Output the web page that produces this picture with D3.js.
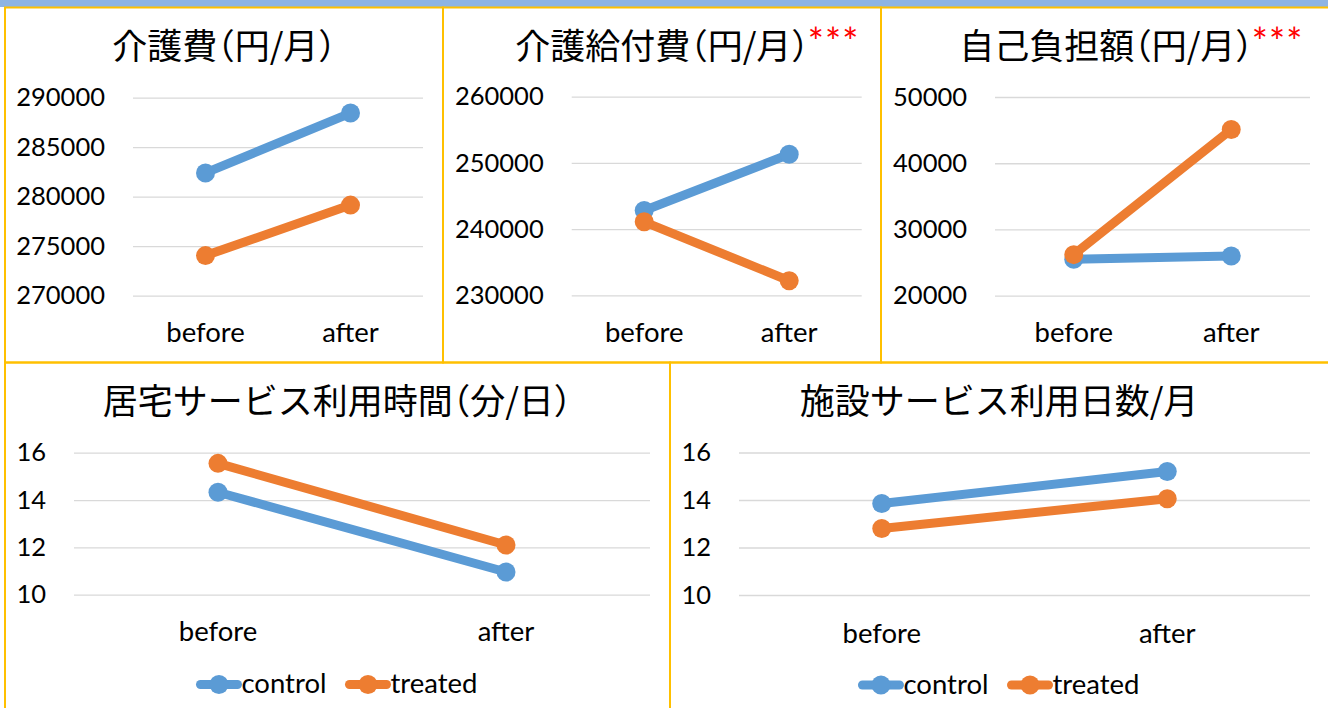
<!DOCTYPE html>
<html><head><meta charset="utf-8">
<script src="https://cdn.jsdelivr.net/npm/d3@7"></script>
<style>
body{margin:0;background:#fff;}
svg{display:block;}
.num{font-family:Lato,"Noto Sans",sans-serif;font-size:25.5px;fill:#000;}
.lbl{font-family:Lato,"Noto Sans",sans-serif;font-size:27.5px;fill:#000;}
.title{font-family:"Noto Sans CJK JP",sans-serif;font-size:35px;fill:#000;font-feature-settings:"halt";}
.sig{font-family:Lato,"Noto Sans",sans-serif;font-size:38px;fill:#ff0000;letter-spacing:1px;}
</style></head><body>
<svg id="c" width="1328" height="708"></svg>
<script>
// ---- data ----
const categories = ["before", "after"];
const seriesNames = ["control", "treated"];
const titles = ["介護費（円/月）", "介護給付費（円/月）", "自己負担額（円/月）", "居宅サービス利用時間（分/日）", "施設サービス利用日数/月"];
const sigMarks = ["", "***", "***", "", ""];

const careCostControl = [282400, 288450];
const careCostTreated = [274050, 279150];
const benefitControl = [242800, 251300];
const benefitTreated = [241100, 232200];
const copayControl = [25500, 26000];
const copayTreated = [26200, 45100];
const homeTimeControl = [14.33, 10.96];
const homeTimeTreated = [15.55, 12.10];
const facilityDaysControl = [13.85, 15.20];
const facilityDaysTreated = [12.80, 14.05];

const ticksCareCost = [270000, 275000, 280000, 285000, 290000];
const ticksBenefit = [230000, 240000, 250000, 260000];
const ticksCopay = [20000, 30000, 40000, 50000];
const ticksHomeTime = [10, 12, 14, 16];
const ticksFacilityDays = [10, 12, 14, 16];

const colors = ["#5b9bd5", "#ed7d31"];

// ---- layout ----
const panels = [
  {title: titles[0], sig: sigMarks[0], series: [careCostControl, careCostTreated], ticks: ticksCareCost,
   box: {x: 5, y: 7.5, w: 438, h: 355}, cx: 224, plot: {x0: 133, x1: 423, y0: 97.7, y1: 295.7}, catY: 342, legend: false},
  {title: titles[1], sig: sigMarks[1], series: [benefitControl, benefitTreated], ticks: ticksBenefit,
   box: {x: 443, y: 7.5, w: 438, h: 355}, cx: 662, plot: {x0: 571.7, x1: 861.7, y0: 96.7, y1: 295.3}, catY: 342, legend: false},
  {title: titles[2], sig: sigMarks[2], series: [copayControl, copayTreated], ticks: ticksCopay,
   box: {x: 881, y: 7.5, w: 470, h: 355}, cx: 1106, plot: {x0: 995, x1: 1310, y0: 97, y1: 295.7}, catY: 342, legend: false},
  {title: titles[3], sig: sigMarks[3], series: [homeTimeControl, homeTimeTreated], ticks: ticksHomeTime,
   box: {x: 5, y: 362.5, w: 665, h: 360}, cx: 337, plot: {x0: 74, x1: 650, y0: 452.7, y1: 594.7}, catY: 641, legend: true, legY: 684.5},
  {title: titles[4], sig: sigMarks[4], series: [facilityDaysControl, facilityDaysTreated], ticks: ticksFacilityDays,
   box: {x: 670, y: 362.5, w: 700, h: 360}, cx: 999, plot: {x0: 739, x1: 1310, y0: 452.5, y1: 595}, catY: 643, legend: true, legY: 685}
];

const svg = d3.select("#c");
svg.append("rect").attr("width", 1328).attr("height", 708).attr("fill", "#fff");
svg.append("rect").attr("x", 0).attr("y", 0).attr("width", 1328).attr("height", 7).attr("fill", "#8eb4e3");

panels.forEach(p => {
  const g = svg.append("g");
  // title
  const t = g.append("text").attr("class", "title").attr("x", p.cx).attr("y", p.box.y + 51.5)
    .attr("text-anchor", "middle").text(p.title);
  if (p.sig) {
    const bb = t.node().getBBox();
    g.append("text").attr("class", "sig").attr("x", bb.x + bb.width - 1).attr("y", p.box.y + 48).text(p.sig);
  }
  const x = d3.scalePoint().domain(categories).range([p.plot.x0, p.plot.x1]).padding(0.5);
  const y = d3.scaleLinear().domain([p.ticks[0], p.ticks[p.ticks.length - 1]]).range([p.plot.y1, p.plot.y0]);
  const ax = g.append("g").attr("transform", `translate(${p.plot.x0},0)`)
    .call(d3.axisLeft(y).tickValues(p.ticks).tickSize(-(p.plot.x1 - p.plot.x0)).tickPadding(28).tickFormat(d3.format("d")));
  ax.select(".domain").remove();
  ax.selectAll("line").attr("stroke", "#d9d9d9").attr("stroke-width", 1.3);
  ax.selectAll("text").attr("class", "num").attr("fill", "#000");
  ax.attr("font-size", null).attr("font-family", null);
  // category labels
  g.selectAll(".cat").data(categories).enter().append("text").attr("class", "lbl")
    .attr("x", d => x(d)).attr("y", p.catY).attr("text-anchor", "middle").text(d => d);
  // series
  const line = d3.line().x((d, i) => x(categories[i])).y(d => y(d));
  p.series.forEach((vals, si) => {
    g.append("path").attr("d", line(vals)).attr("fill", "none").attr("stroke", colors[si])
      .attr("stroke-width", 9).attr("stroke-linejoin", "round").attr("stroke-linecap", "round");
    g.selectAll(null).data(vals).enter().append("circle")
      .attr("cx", (d, i) => x(categories[i])).attr("cy", d => y(d)).attr("r", 9.5).attr("fill", colors[si]);
  });
  // legend
  if (p.legend) {
    const lg = g.append("g");
    const texts = seriesNames.map(n => lg.append("text").attr("class", "lbl").attr("y", p.legY + 8.5).text(n));
    const widths = texts.map(tt => tt.node().getComputedTextLength());
    const lineW = 45, gap = 19;
    const total = widths.reduce((a, b) => a + b, 0) + lineW * 2 + gap;
    let cur = p.cx - total / 2;
    seriesNames.forEach((n, i) => {
      lg.append("line").attr("x1", cur + 4).attr("x2", cur + lineW - 4).attr("y1", p.legY).attr("y2", p.legY)
        .attr("stroke", colors[i]).attr("stroke-width", 9).attr("stroke-linecap", "round");
      lg.append("circle").attr("cx", cur + lineW / 2).attr("cy", p.legY).attr("r", 9.5).attr("fill", colors[i]);
      texts[i].attr("x", cur + lineW);
      cur += lineW + widths[i] + gap;
    });
  }
  // border
  svg.append("rect").attr("x", p.box.x).attr("y", p.box.y).attr("width", p.box.w).attr("height", p.box.h)
    .attr("fill", "none").attr("stroke", "#ffc000").attr("stroke-width", 2);
});
</script>
</body></html>
